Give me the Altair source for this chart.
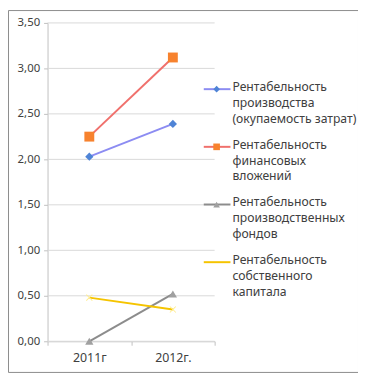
import altair as alt
import pandas as pd

years = ["2011г", "2012г."]
series = [
    "Рентабельность\nпроизводства\n(окупаемость затрат)",
    "Рентабельность\nфинансовых\nвложений",
    "Рентабельность\nпроизводственных\nфондов",
    "Рентабельность\nсобственного\nкапитала",
]
values = [
    [2.03, 2.39],
    [2.25, 3.12],
    [0.00, 0.52],
    [0.48, 0.35],
]
y_ticks = [0, 0.5, 1.0, 1.5, 2.0, 2.5, 3.0, 3.5]

line_colors = ["#8c8cf2", "#f0706c", "#8c8c8c", "#f5c400"]
marker_colors = ["#4f84d6", "#f7822e", "#a0a0a0", "#ffec8a"]
X_SHAPE = ("M-0.15,0 L-0.8,-0.65 L-0.65,-0.8 L0,-0.15 L0.65,-0.8 L0.8,-0.65 L0.15,0 "
           "L0.8,0.65 L0.65,0.8 L0,0.15 L-0.65,0.8 L-0.8,0.65 Z")
shapes = ["diamond", "square", "triangle-up", X_SHAPE]

rows = []
for s, vals in zip(series, values):
    for yr, v in zip(years, vals):
        rows.append({"series": s, "year": yr, "value": v})
df = pd.DataFrame(rows)
leg = pd.DataFrame({"series": series})
grid = pd.DataFrame({"v": y_ticks})

FONT = "Noto Sans"

xs = alt.Scale(type="band", domain=years, range=[40, 209], paddingInner=0, paddingOuter=0)
ys = alt.Scale(domain=[0, 3.5], range=[335, 13], nice=False, zero=False)
stroke_s = alt.Scale(domain=series, range=line_colors)
fill_s = alt.Scale(domain=series, range=marker_colors)
shape_s = alt.Scale(domain=series, range=shapes)

gridlines = alt.Chart(grid).mark_rule(color="#d9d9d9", strokeWidth=1).encode(
    y=alt.Y("v:Q", scale=ys, axis=alt.Axis(
        title=None, values=y_ticks, labelExpr="replace(format(datum.value, '.2f'), '.', ',')",
        offset=-40, grid=False, domainColor="#c0c0c0", tickColor="#c0c0c0", tickSize=4,
        labelFont=FONT, labelFontSize=11.5, labelColor="#404040", labelPadding=4)),
    x=alt.value(40), x2=alt.value(209),
)

lines = alt.Chart(df).mark_line(strokeWidth=2).encode(
    x=alt.X("year:N", scale=xs, sort=years, axis=alt.Axis(
        title=None, offset=-31, tickBand="extent", domainColor="#c0c0c0", tickColor="#c0c0c0",
        tickSize=4, labelAngle=0, labelFont=FONT, labelFontSize=12.5, labelColor="#404040", labelPadding=6)),
    y=alt.Y("value:Q", scale=ys),
    stroke=alt.Stroke("series:N", scale=stroke_s, legend=None),
    detail="series:N",
)

points = alt.Chart(df).mark_point(filled=True, opacity=1, strokeWidth=0).encode(
    x=alt.X("year:N", scale=xs, sort=years),
    y=alt.Y("value:Q", scale=ys),
    fill=alt.Fill("series:N", scale=fill_s, legend=None),
    shape=alt.Shape("series:N", scale=shape_s, legend=None),
    size=alt.condition("datum.series == '" + series[1].replace("\n", "\\n") + "'", alt.value(100), alt.value(70)),
)

data_layer = alt.layer(gridlines, lines, points)

ly = alt.Scale(type="point", domain=series, range=[80, 255], padding=0)
leg_line = alt.Chart(leg).mark_rule(strokeWidth=2).encode(
    y=alt.Y("series:N", scale=ly, axis=None),
    x=alt.value(198), x2=alt.value(225),
    stroke=alt.Stroke("series:N", scale=stroke_s, legend=None),
)
leg_pt = alt.Chart(leg).transform_filter(alt.datum.series != series[3]).mark_point(
    filled=True, opacity=1, strokeWidth=0).encode(
    y=alt.Y("series:N", scale=ly, axis=None),
    x=alt.value(211),
    fill=alt.Fill("series:N", scale=fill_s, legend=None),
    shape=alt.Shape("series:N", scale=shape_s, legend=None),
    size=alt.value(45),
)
leg_text = alt.Chart(leg).mark_text(
    align="left", baseline="top", lineBreak="\n", lineHeight=16, dy=-8,
    font=FONT, fontSize=12.3, color="#404040").encode(
    y=alt.Y("series:N", scale=ly, axis=None),
    x=alt.value(227),
    text="series:N",
)
legend_layer = alt.layer(leg_line, leg_pt, leg_text)

chart = alt.layer(data_layer, legend_layer).resolve_scale(y="independent").properties(
    width=354, height=366, padding=0, autosize=alt.AutoSizeParams(type="none"),
    background="white",
).configure_view(stroke="#8c8c8c", strokeWidth=1)

chart.save("out.html", embed_options={"renderer": "svg", "actions": False})
